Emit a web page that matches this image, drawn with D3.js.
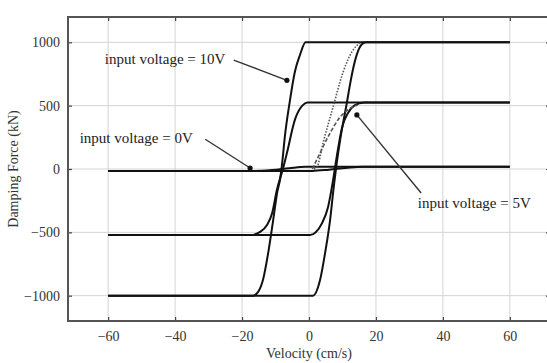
<!DOCTYPE html>
<html>
<head>
<meta charset="utf-8">
<script src="https://cdn.jsdelivr.net/npm/d3@7"></script>
<style>
  html, body { margin: 0; padding: 0; background: #fff; }
  svg { display: block; font-family: "Liberation Serif", "DejaVu Serif", serif; }
</style>
</head>
<body>
<div id="chart"></div>
<script>
// velocity (cm/s) vs damping force (kN)
const xTicks = [-60, -40, -20, 0, 20, 40, 60];
const yTicks = [-1000, -500, 0, 500, 1000];

// 10V loop
const loop10Upper = [[60, 1000], [-1, 1000], [-2.7, 900], [-4.2, 770], [-5.7, 540], [-7.2, 260], [-8, 50], [-8.7, -90], [-9.4, -170], [-10.7, -403], [-12.2, -664], [-13.7, -870], [-15.2, -970], [-16.7, -1000], [-60, -1000]];
const loop10Lower = [[-60, -1000], [1.2, -1000], [3.3, -877], [4.8, -664], [6.3, -403], [7.4, -140], [8.3, 50], [9.3, 229], [10.3, 380], [11.3, 521], [12.2, 660], [13.1, 782], [14.3, 905], [15.8, 985], [17, 1000], [60, 1000]];

// 5V loop
const loop5Upper = [[60, 525], [-0.5, 525], [-2, 500], [-4.2, 390], [-6.6, 126], [-7.8, 0], [-9.6, -166], [-11, -347], [-12.5, -440], [-14.5, -495], [-17.6, -522], [-60, -522]];
const loop5Lower = [[-60, -522], [0.3, -522], [2, -500], [3.9, -427], [5.7, -300], [7.2, -87], [8.3, 100], [9.9, 330], [11.6, 440], [13.5, 500], [16.5, 525], [60, 525]];

// 0V loop
const loop0Upper = [[60, 18], [-1, 18], [-6, 6], [-11, -8], [-16, -15], [-60, -15]];
const loop0Lower = [[-60, -15], [1, -15], [6, -5], [11, 8], [16, 18], [60, 18]];

// faint dotted / dashed curves near the rising branches
const dotted10 = [[1.5, 0], [2.4, 16], [4.2, 205], [7.2, 490], [10.1, 758], [12.8, 924], [15.2, 995]];
const dashed5 = [[1, 0], [3, 110], [6, 270], [9, 400], [12, 475], [14.5, 505]];

// annotations: label, text anchor point (data), arrow dot (data)
const notes = [
  { label: 'input voltage = 10V', tx: -61, ty: 870, lx0: -22.5, ly0: 860, lx1: -6.6, ly1: 700 },
  { label: 'input voltage = 0V', tx: -68.5, ty: 245, lx0: -31, ly0: 235, lx1: -17.6, ly1: 8 },
  { label: 'input voltage = 5V', tx: 32.5, ty: -270, lx0: 33.5, ly0: -190, lx1: 14.3, ly1: 427 }
];

const W = 547, H = 363;
const margin = { top: 17, right: -3, bottom: 42, left: 68 };
const innerW = W - margin.left - margin.right;
const innerH = H - margin.top - margin.bottom;

const svg = d3.select('#chart').append('svg')
  .attr('width', W)
  .attr('height', H);

const g = svg.append('g').attr('transform', `translate(${margin.left},${margin.top})`);

const x = d3.scaleLinear().domain([-72, 72]).range([0, innerW]);
const y = d3.scaleLinear().domain([-1200, 1200]).range([innerH, 0]);

// grid
g.append('g').selectAll('line').data(xTicks).join('line')
  .attr('x1', d => x(d)).attr('x2', d => x(d))
  .attr('y1', 0).attr('y2', innerH)
  .attr('stroke', '#d4d4d4').attr('stroke-width', 1);
g.append('g').selectAll('line').data(yTicks).join('line')
  .attr('x1', 0).attr('x2', innerW)
  .attr('y1', d => y(d)).attr('y2', d => y(d))
  .attr('stroke', '#d4d4d4').attr('stroke-width', 1);

// axes, ticks pointing inward
g.append('g')
  .attr('transform', `translate(0,${innerH})`)
  .call(d3.axisBottom(x).tickValues(xTicks).tickSizeInner(-4).tickSizeOuter(0).tickPadding(10)
    .tickFormat(d => d < 0 ? '\u2212' + Math.abs(d) : d));
g.append('g')
  .call(d3.axisLeft(y).tickValues(yTicks).tickSizeInner(-4).tickSizeOuter(0).tickPadding(8)
    .tickFormat(d => d < 0 ? '\u2212' + Math.abs(d) : d));
g.append('g')
  .call(d3.axisTop(x).tickValues(xTicks).tickSizeInner(-4).tickSizeOuter(0).tickFormat(''));
g.append('g')
  .attr('transform', `translate(${innerW},0)`)
  .call(d3.axisRight(y).tickValues(yTicks).tickSizeInner(-4).tickSizeOuter(0).tickFormat(''));

g.selectAll('.domain').remove();
g.selectAll('.tick line').attr('stroke', '#444').attr('stroke-width', 1.2);
g.selectAll('.tick text')
  .attr('fill', '#333')
  .attr('font-size', 14)
  .attr('font-family', '"Liberation Serif", serif');

// frame
g.append('rect')
  .attr('x', 0).attr('y', 0)
  .attr('width', innerW).attr('height', innerH)
  .attr('fill', 'none')
  .attr('stroke', '#555')
  .attr('stroke-width', 2);

// curves
const line = d3.line()
  .x(d => x(d[0]))
  .y(d => y(d[1]))
  .curve(d3.curveMonotoneX);

const sorted = arr => arr.slice().sort((a, b) => a[0] - b[0]);

const solid = [loop10Upper, loop10Lower, loop5Upper, loop5Lower, loop0Upper, loop0Lower];
g.append('g').selectAll('path').data(solid).join('path')
  .attr('d', d => line(sorted(d)))
  .attr('fill', 'none')
  .attr('stroke', '#111')
  .attr('stroke-width', 2);

g.append('path')
  .attr('d', line(dotted10))
  .attr('fill', 'none')
  .attr('stroke', '#555')
  .attr('stroke-width', 1.6)
  .attr('stroke-dasharray', '1.5,1.5');

g.append('path')
  .attr('d', line(dashed5))
  .attr('fill', 'none')
  .attr('stroke', '#555')
  .attr('stroke-width', 1.6)
  .attr('stroke-dasharray', '4,2');

// annotations
const ann = g.append('g');
notes.forEach(n => {
  ann.append('line')
    .attr('x1', x(n.lx0)).attr('y1', y(n.ly0))
    .attr('x2', x(n.lx1)).attr('y2', y(n.ly1))
    .attr('stroke', '#333').attr('stroke-width', 1.4);
  ann.append('circle')
    .attr('cx', x(n.lx1)).attr('cy', y(n.ly1))
    .attr('r', 2.6).attr('fill', '#111');
  ann.append('text')
    .attr('x', x(n.tx)).attr('y', y(n.ty))
    .attr('dy', '0.35em')
    .attr('font-size', 15)
    .attr('fill', '#222')
    .text(n.label);
});

// axis titles
svg.append('text')
  .attr('transform', `translate(18,${margin.top + y(0)}) rotate(-90)`)
  .attr('text-anchor', 'middle')
  .attr('font-size', 14)
  .attr('fill', '#333')
  .text('Damping Force (kN)');

svg.append('text')
  .attr('x', margin.left + x(0))
  .attr('y', 358)
  .attr('text-anchor', 'middle')
  .attr('font-size', 14)
  .attr('fill', '#333')
  .text('Velocity (cm/s)');
</script>
</body>
</html>
